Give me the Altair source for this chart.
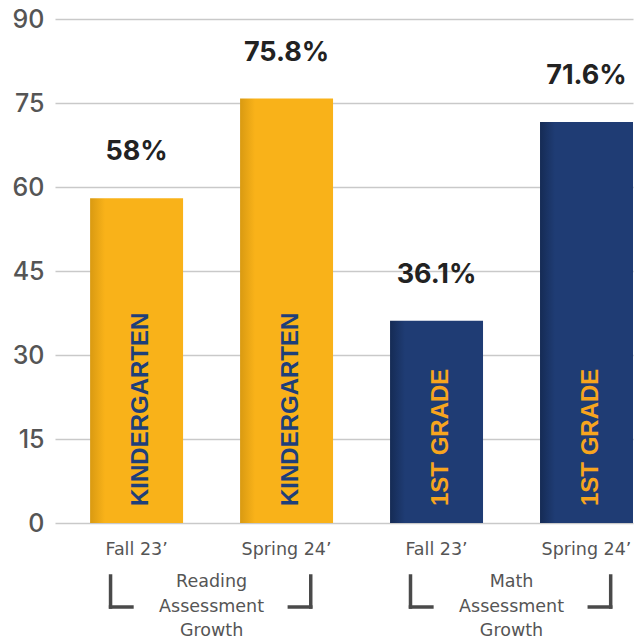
import altair as alt
import pandas as pd

# ---- data ----
subjects = ["Reading", "Reading", "Math", "Math"]
periods = ["Fall 23’", "Spring 24’", "Fall 23’", "Spring 24’"]
grades = ["KINDERGARTEN", "KINDERGARTEN", "1ST GRADE", "1ST GRADE"]
values = [58, 75.8, 36.1, 71.6]
group_names = ["Reading", "Math"]
group_labels = ["Reading\nAssessment\nGrowth", "Math\nAssessment\nGrowth"]
y_ticks = [0, 15, 30, 45, 60, 75, 90]

keys = [f"{s}|{p}" for s, p in zip(subjects, periods)]
df = pd.DataFrame({"key": keys, "subject": subjects, "period": periods,
                   "grade": grades, "value": values})
df["label"] = [f"{v:g}%" for v in values]

first_keys = [next(k for k, s in zip(keys, subjects) if s == g) for g in group_names]
last_keys = [[k for k, s in zip(keys, subjects) if s == g][-1] for g in group_names]
gdf = pd.DataFrame({"subject": group_names, "text": group_labels,
                    "key": first_keys, "second": last_keys})

# ---- styles ----
GOLD = "#F9B219"
GOLD_DARK = "#D99A12"
NAVY = "#1F3C74"
NAVY_DARK = "#152B55"
TEXT_GREY = "#555555"
W, H = 578, 504

xscale = alt.Scale(domain=keys, paddingInner=0.38, paddingOuter=0.117, align=1)
yscale = alt.Scale(domain=[0, 90])

x_axis = alt.Axis(labelExpr="split(datum.label, '|')[1]", labelAngle=0,
                  labelFontSize=17.5, labelFont="DejaVu Sans",
                  labelColor=TEXT_GREY, labelPadding=17,
                  domain=False, ticks=False, title=None)
y_axis = alt.Axis(values=y_ticks, grid=True, gridColor="#c9c9c9",
                  gridWidth=1.5, domain=False, ticks=False,
                  labelFontSize=25, labelFont="Inter", labelFontWeight=500,
                  labelColor=TEXT_GREY, labelPadding=11, title=None)


def X(field="key", bp=None):
    if bp is None:
        return alt.X(f"{field}:N", scale=xscale, sort=keys, title=None, axis=x_axis)
    return alt.X(f"{field}:N", scale=xscale, sort=keys, title=None, axis=x_axis,
                 bandPosition=bp)


y_main = alt.Y("value:Q", scale=yscale, title=None, axis=y_axis)

base = alt.Chart(df)


def grad(dark, main):
    return alt.Gradient(gradient="linear", x1=0, x2=1, y1=0, y2=0,
                        stops=[alt.GradientStop(color=dark, offset=0),
                               alt.GradientStop(color=main, offset=0.16),
                               alt.GradientStop(color=main, offset=1)])


bars_r = base.transform_filter(alt.datum.subject == "Reading").mark_bar(
    color=grad(GOLD_DARK, GOLD)).encode(x=X(), y=y_main)
bars_m = base.transform_filter(alt.datum.subject == "Math").mark_bar(
    color=grad(NAVY_DARK, NAVY)).encode(x=X(), y=y_main)

value_labels = base.mark_text(font="Inter", fontWeight="bold", fontSize=27,
                              color="#222222", baseline="middle", dy=-46).encode(
    x=X(), y=y_main, text="label:N")

grade_labels = base.mark_text(font="Liberation Sans", fontWeight="bold", fontSize=24,
                              angle=270, align="left", baseline="middle",
                              dx=17, dy=4).encode(
    x=X(), y=alt.datum(0, scale=yscale, axis=y_axis),
    text="grade:N",
    color=alt.Color("subject:N", legend=None,
                    scale=alt.Scale(domain=["Reading", "Math"],
                                    range=["#1E3F7A", "#F7A51E"])))

gbase = alt.Chart(gdf)
group_text = gbase.mark_text(font="DejaVu Sans", fontSize=17.5, lineHeight=24.5,
                             lineBreak="\n", color=TEXT_GREY, baseline="top",
                             align="center", dx=75).encode(
    x=X(), y=alt.value(554), text="text:N")

rule_style = dict(color="#4a4a4a", strokeWidth=3.5, strokeCap="square")
lv = gbase.mark_rule(**rule_style).encode(
    x=X("key", 0.22), y=alt.value(557), y2=alt.value(588))
lh = gbase.mark_rule(**rule_style).encode(
    x=X("key", 0.22), x2=alt.X2("key:N", bandPosition=0.45), y=alt.value(588))
rv = gbase.mark_rule(**rule_style).encode(
    x=X("second", 0.76), y=alt.value(557), y2=alt.value(588))
rh = gbase.mark_rule(**rule_style).encode(
    x=X("second", 0.53), x2=alt.X2("second:N", bandPosition=0.76), y=alt.value(588))

chart = alt.layer(bars_r, bars_m, value_labels, grade_labels,
                  group_text, lv, lh, rv, rh).properties(
    width=W, height=H,
    autosize=alt.AutoSizeParams(type="none"),
    padding={"left": 55, "top": 19, "right": 5, "bottom": 120},
    background="white",
).configure_view(stroke=None)

chart.save("out.html", embed_options={"renderer": "svg", "actions": False})
